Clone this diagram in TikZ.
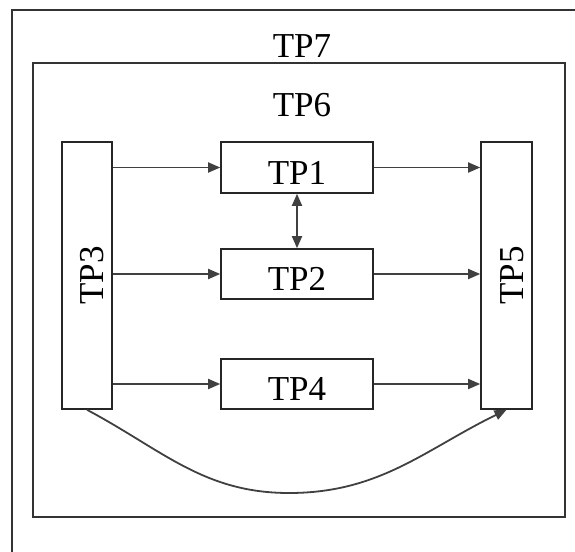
\documentclass[tikz,border=0pt]{standalone}
\usepackage{fontspec}
\setmainfont{Liberation Serif}
\usetikzlibrary{arrows.meta}

\begin{document}
\begin{tikzpicture}[x=1pt,y=-1pt,
  frame/.style={draw=black!80,line width=1.8pt,inner sep=0pt},
  box/.style={draw=black!85,line width=1.6pt,inner sep=0pt,font=\fontsize{35}{40}\selectfont,text height=33pt,text depth=0pt},
  bar/.style={draw=black!85,line width=1.6pt,inner sep=0pt,font=\fontsize{35}{40}\selectfont,minimum height=267pt},
  lbl/.style={font=\fontsize{35}{40}\selectfont,inner sep=0pt},
  a/.style={-{Triangle[length=12pt,width=10pt]},draw=black!75,line width=1.8pt}]
\useasboundingbox (0,0) rectangle (575,551);
\clip (0,0) rectangle (575,551);
% nested frames
\node[frame,minimum width=588pt,minimum height=570pt] (tp7) at (306,295) {};
\node[frame,minimum width=532pt,minimum height=454pt] (tp6) at (299,290) {};
\node[lbl] (tp7label) at (302,46) {TP7};
\node[lbl] (tp6label) at (302,105) {TP6};
% side bars
\node[bar,minimum width=50pt] (tp3) at (87,275.5) {\hspace*{10pt}\rotatebox{90}{TP3}};
\node[bar,minimum width=51pt] (tp5) at (506.5,275.5) {\hspace*{11pt}\rotatebox{90}{TP5}};
% middle boxes
\node[box,minimum width=152pt,minimum height=51pt] (tp1) at (297,167.5) {TP1};
\node[box,minimum width=152pt,minimum height=50pt] (tp2) at (297,274) {TP2};
\node[box,minimum width=152pt,minimum height=50pt] (tp4) at (297,384) {TP4};
\coordinate (low) at (289,493);
% connectors
\foreach \n in {tp1,tp2,tp4}{
  \draw[a] (tp3.east |- \n.west) -- (\n.west);
  \draw[a] (\n.east) -- (tp5.west |- \n.east);
}
\draw[a,{Triangle[length=12pt,width=10pt]}-{Triangle[length=12pt,width=10pt]}] (tp1.south) -- (tp2.north);
\draw[a] (tp3.south) to[out=-28,in=180] (low) to[out=0,in=-154] (tp5.south);
\end{tikzpicture}
\end{document}
